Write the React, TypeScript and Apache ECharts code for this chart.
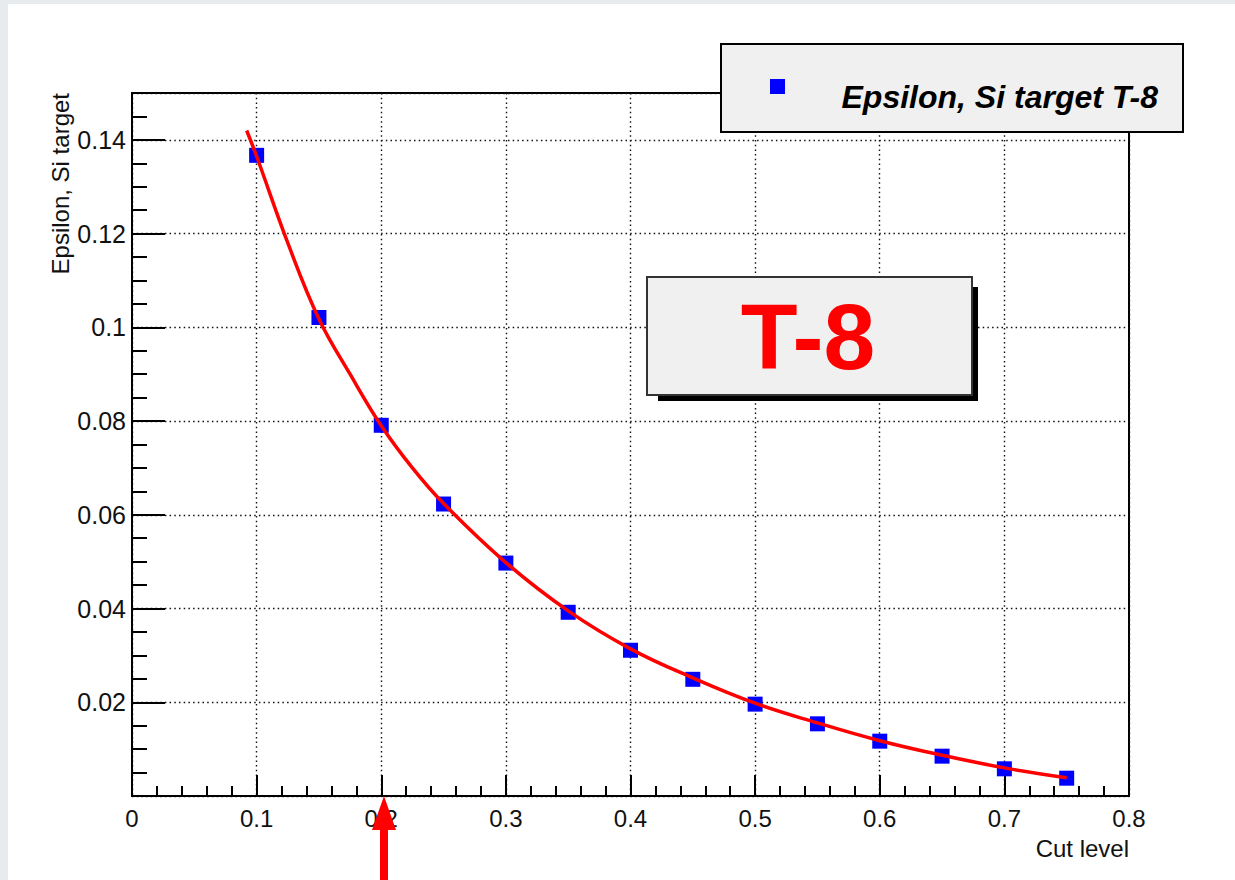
import React, { useEffect, useRef } from "react";
import * as echarts from "echarts";

const cutLevels = [0.1, 0.15, 0.2, 0.25, 0.3, 0.35, 0.4, 0.45, 0.5, 0.55, 0.6, 0.65, 0.7, 0.75];
const epsilon = [0.1367, 0.1021, 0.0791, 0.0623, 0.0497, 0.0392, 0.0311, 0.0249, 0.0196, 0.0154, 0.0117, 0.0085, 0.0058, 0.0038];

const fitX = [0.092, 0.1, 0.125, 0.15, 0.175, 0.2, 0.225, 0.25, 0.3, 0.35, 0.4, 0.45, 0.5, 0.55, 0.6, 0.65, 0.7, 0.75];
const fitY = [0.142, 0.1365, 0.118, 0.1018, 0.09, 0.079, 0.07, 0.0624, 0.0498, 0.0395, 0.0314, 0.0252, 0.0198, 0.0156, 0.0118, 0.0087, 0.006, 0.0039];

const xTitle = "Cut level";
const yTitle = "Epsilon, Si target";
const legendLabel = "Epsilon, Si target T-8";
const boxLabel = "T-8";

const FONT = "'Liberation Sans', Arial, Helvetica, sans-serif";

export default function App() {
  const ref = useRef<HTMLDivElement>(null);
  useEffect(() => {
    if (!ref.current) return;
    const chart = echarts.init(ref.current, undefined, { renderer: "svg" });
    const gridLine = { show: true, lineStyle: { color: "#111", type: [1.5, 3.2] as any, width: 1.4 } };
    chart.setOption({
      animation: false,
      backgroundColor: "transparent",
      grid: {
        left: 132,
        top: 93,
        right: 106,
        bottom: 84,
        show: true,
        borderColor: "#000",
        borderWidth: 2,
        backgroundColor: "transparent",
      },
      xAxis: [
        {
          type: "value",
          min: 0,
          max: 0.8,
          interval: 0.1,
          axisLine: { show: true, lineStyle: { color: "#000", width: 2 } },
          axisTick: { show: true, inside: true, length: 21, lineStyle: { color: "#000", width: 2 } },
          minorTick: { show: true, splitNumber: 5, length: 10, lineStyle: { color: "#000", width: 2 } },
          splitLine: gridLine,
          axisLabel: {
            margin: 10,
            fontSize: 24,
            fontFamily: FONT,
            color: "#111",
            formatter: (v: number) => String(Math.round(v * 10) / 10),
          },
        },
      ],
      yAxis: [
        {
          type: "value",
          position: "left",
          min: 0,
          max: 0.15,
          interval: 0.02,
          axisLine: { show: true, lineStyle: { color: "#000", width: 2 } },
          axisTick: { show: true, inside: true, length: 33, lineStyle: { color: "#000", width: 2 } },
          splitLine: gridLine,
          axisLabel: {
            margin: 6,
            fontSize: 25,
            fontFamily: FONT,
            color: "#111",
            showMaxLabel: false,
            showMinLabel: false,
            formatter: (v: number) => {
              const r = Math.round(v * 100) / 100;
              if (r === 0 || Math.abs(v - 0.15) < 1e-6) return "";
              return String(r);
            },
          },
        },
        {
          type: "value",
          position: "left",
          offset: 0,
          min: 0,
          max: 0.15,
          interval: 0.005,
          axisLine: { show: false },
          axisTick: { show: true, inside: true, length: 15, lineStyle: { color: "#000", width: 2 } },
          splitLine: { show: false },
          axisLabel: { show: false },
        },
      ],
      series: [
        {
          name: legendLabel,
          type: "scatter",
          symbol: "rect",
          symbolSize: 15,
          itemStyle: { color: "#0000ff", opacity: 1 },
          z: 3,
          data: cutLevels.map((x, i) => [x, epsilon[i]]),
        },
        {
          name: "fit",
          type: "line",
          showSymbol: false,
          smooth: 0.4,
          lineStyle: { color: "#ff0000", width: 3.5 },
          z: 4,
          data: fitX.map((x, i) => [x, fitY[i]]),
        },
      ],
      graphic: [
        {
          type: "text",
          x: 60,
          y: 93,
          rotation: Math.PI / 2,
          style: {
            text: yTitle,
            fontSize: 24,
            fontFamily: FONT,
            fill: "#111",
            textAlign: "right",
            textVerticalAlign: "middle",
          },
        },
        {
          type: "text",
          x: 1129,
          y: 848,
          style: {
            text: xTitle,
            fontSize: 24,
            fontFamily: FONT,
            fill: "#111",
            textAlign: "right",
            textVerticalAlign: "middle",
          },
        },
        {
          type: "rect",
          shape: { x: 721, y: 44, width: 462, height: 88 },
          style: { fill: "#f0f0f0", stroke: "#000", lineWidth: 2 },
          z: 100,
        },
        {
          type: "rect",
          shape: { x: 770, y: 79, width: 15, height: 15 },
          style: { fill: "#0000ff" },
          z: 101,
        },
        {
          type: "text",
          x: 1158,
          y: 97,
          z: 101,
          style: {
            text: legendLabel,
            fontSize: 32,
            fontWeight: "bold",
            fontStyle: "italic",
            fontFamily: FONT,
            fill: "#000",
            textAlign: "right",
            textVerticalAlign: "middle",
          },
        },
        {
          type: "rect",
          shape: { x: 658, y: 287, width: 320, height: 114 },
          style: { fill: "#000" },
          z: 100,
        },
        {
          type: "rect",
          shape: { x: 647, y: 277, width: 325, height: 118 },
          style: { fill: "#f0f0f0", stroke: "#333", lineWidth: 2 },
          z: 101,
        },
        {
          type: "text",
          x: 808,
          y: 337,
          z: 102,
          style: {
            text: boxLabel,
            fontSize: 93,
            fontWeight: "bold",
            fontFamily: FONT,
            fill: "#ff0000",
            textAlign: "center",
            textVerticalAlign: "middle",
          },
        },
        {
          type: "polygon",
          z: 100,
          shape: {
            points: [
              [384, 796],
              [396, 830],
              [388, 830],
              [388, 880],
              [380, 880],
              [380, 830],
              [372, 830],
            ],
          },
          style: { fill: "#ff0000" },
        },
      ],
    });
    return () => chart.dispose();
  }, []);

  return (
    <div style={{ position: "fixed", left: 0, top: 0, width: 1235, height: 880, background: "#e8ebee" }}>
      <div style={{ position: "absolute", left: 8, top: 4, right: 0, bottom: 0, background: "#ffffff" }} />
      <div ref={ref} style={{ position: "absolute", left: 0, top: 0, width: 1235, height: 880 }} />
    </div>
  );
}
